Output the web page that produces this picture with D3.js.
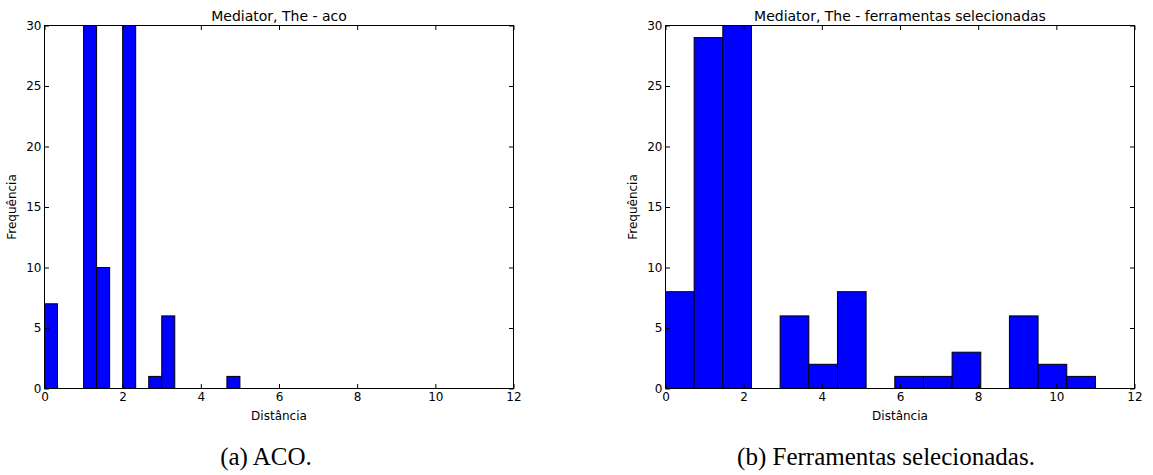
<!DOCTYPE html>
<html>
<head>
<meta charset="utf-8">
<script src="https://cdn.jsdelivr.net/npm/d3@7"></script>
<style>
  html, body { margin: 0; padding: 0; background: #fff; }
  svg { display: block; }
</style>
</head>
<body>
<svg id="chart" width="1153" height="475"></svg>
<script>
// ---- data ----
const xTicks = [0, 2, 4, 6, 8, 10, 12];
const yTicks = [0, 5, 10, 15, 20, 25, 30];

const acoTitle = "Mediator, The - aco";
const acoEdges = [0, 0.333, 0.667, 1, 1.333, 1.667, 2, 2.333, 2.667, 3, 3.333, 3.667, 4, 4.333, 4.667, 5];
const acoCounts = [7, 0, 0, 30, 10, 0, 30, 0, 1, 6, 0, 0, 0, 0, 1];

const selTitle = "Mediator, The - ferramentas selecionadas";
const selEdges = [0, 0.733, 1.467, 2.2, 2.933, 3.667, 4.4, 5.133, 5.867, 6.6, 7.333, 8.067, 8.8, 9.533, 10.267, 11];
const selCounts = [8, 29, 30, 0, 6, 2, 8, 0, 1, 1, 3, 0, 6, 2, 1];

const xLabel = "Distância";
const yLabel = "Frequência";
const captions = ["(a) ACO.", "(b) Ferramentas selecionadas."];

// ---- drawing ----
const svg = d3.select("#chart");
const FONT = "DejaVu Sans";

function panel(opts) {
  const { left, right, top, bottom, title, edges, counts, caption, captionX, id } = opts;
  const x = d3.scaleLinear().domain([0, 12]).range([left, right]);
  const y = d3.scaleLinear().domain([0, 30]).range([bottom, top]);
  const g = svg.append("g");

  g.append("clipPath").attr("id", id)
    .append("rect").attr("x", left).attr("y", top)
    .attr("width", right - left).attr("height", bottom - top);

  const bins = counts.map((c, i) => ({ x0: edges[i], x1: edges[i + 1], c }));
  const bars = g.append("g").attr("clip-path", `url(#${id})`);
  bars.selectAll("rect").data(bins.filter(d => d.c > 0)).join("rect")
    .attr("x", d => x(d.x0))
    .attr("y", d => y(d.c))
    .attr("width", d => x(d.x1) - x(d.x0))
    .attr("height", d => y(0) - y(d.c))
    .attr("fill", "#0000ff")
    .attr("stroke", "#000")
    .attr("stroke-width", 1);
  bars.selectAll("line.zero").data(bins.filter(d => d.c === 0)).join("line")
    .attr("class", "zero")
    .attr("x1", d => x(d.x0)).attr("x2", d => x(d.x1))
    .attr("y1", y(0)).attr("y2", y(0))
    .attr("stroke", "#000").attr("stroke-width", 1.2);

  // axes (ticks inward, matplotlib classic look)
  const tl = 4.5;
  const axB = d3.axisBottom(x).tickValues(xTicks).tickSize(-tl).tickPadding(3.5);
  const axT = d3.axisTop(x).tickValues(xTicks).tickSize(-tl).tickFormat("");
  const axL = d3.axisLeft(y).tickValues(yTicks).tickSize(-tl).tickPadding(3);
  const axR = d3.axisRight(y).tickValues(yTicks).tickSize(-tl).tickFormat("");

  const gb = g.append("g").attr("transform", `translate(0,${bottom})`).call(axB);
  const gt = g.append("g").attr("transform", `translate(0,${top})`).call(axT);
  const gl = g.append("g").attr("transform", `translate(${left},0)`).call(axL);
  const gr = g.append("g").attr("transform", `translate(${right},0)`).call(axR);
  [gb, gt, gl, gr].forEach(a => {
    a.select(".domain").remove();
    a.selectAll("line").attr("stroke", "#000");
    a.selectAll("text").attr("font-family", FONT).attr("font-size", 12).attr("fill", "#000");
  });

  g.append("rect").attr("x", left).attr("y", top)
    .attr("width", right - left).attr("height", bottom - top)
    .attr("fill", "none").attr("stroke", "#000").attr("stroke-width", 1);

  g.append("text").attr("x", (left + right) / 2).attr("y", top - 5)
    .attr("text-anchor", "middle").attr("font-family", FONT).attr("font-size", 14)
    .text(title);

  g.append("text").attr("x", (left + right) / 2).attr("y", bottom + 31)
    .attr("text-anchor", "middle").attr("font-family", FONT).attr("font-size", 12)
    .text(xLabel);

  g.append("text")
    .attr("transform", `translate(${left - 28.5},${(top + bottom) / 2}) rotate(-90)`)
    .attr("text-anchor", "middle").attr("font-family", FONT).attr("font-size", 12)
    .text(yLabel);

  svg.append("text").attr("x", captionX).attr("y", 465)
    .attr("text-anchor", "middle").attr("font-family", "Liberation Serif")
    .attr("font-size", 25).text(caption);
}

panel({ left: 44.5, right: 513.5, top: 25.5, bottom: 388.5, title: acoTitle,
        edges: acoEdges, counts: acoCounts, caption: captions[0], captionX: 266, id: "clipA" });
panel({ left: 665.5, right: 1134.5, top: 25.5, bottom: 388.5, title: selTitle,
        edges: selEdges, counts: selCounts, caption: captions[1], captionX: 886, id: "clipB" });
</script>
</body>
</html>
